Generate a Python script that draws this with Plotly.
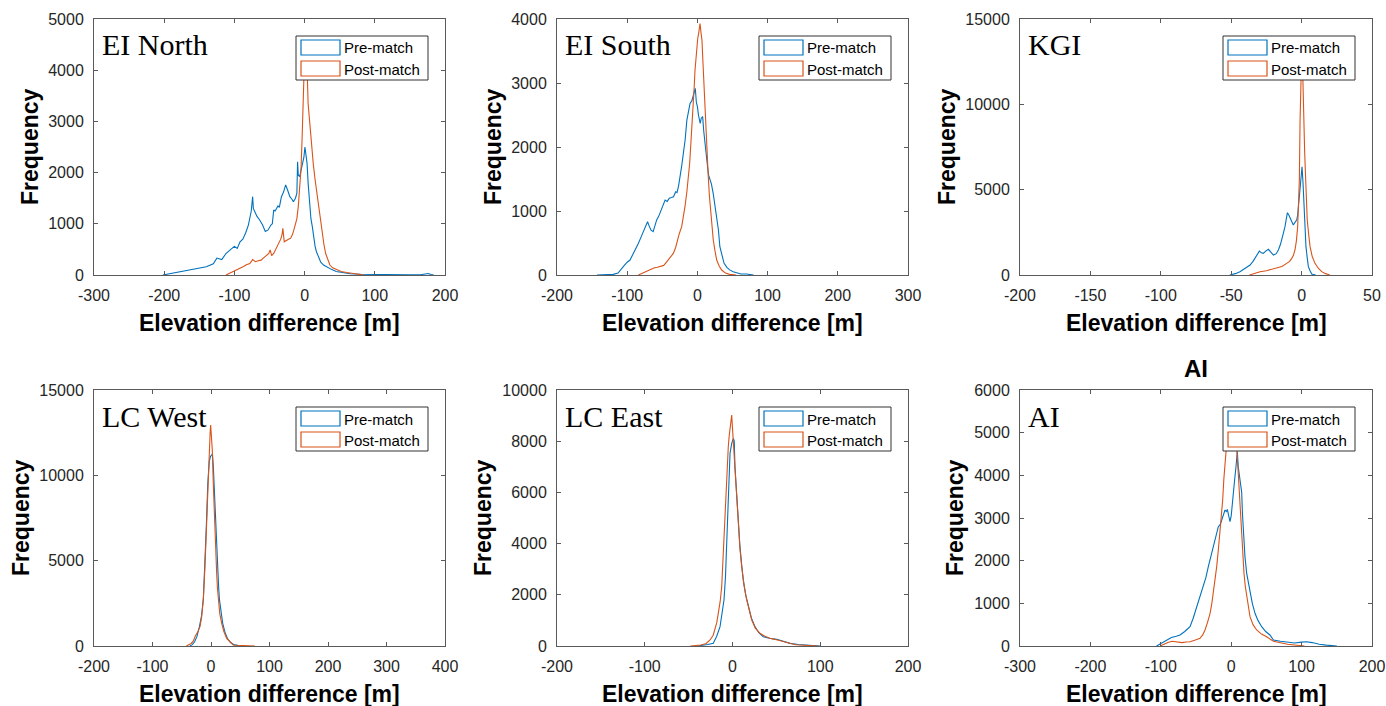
import plotly.graph_objects as go

# ---------------- data ----------------
PANEL_NAMES = ["EI North", "EI South", "KGI", "LC West", "LC East", "AI"]
SERIES_NAMES = ["Pre-match", "Post-match"]
PANEL_TITLE_AI = "AI"

X_TICKS = [
    [-300, -200, -100, 0, 100, 200],
    [-200, -100, 0, 100, 200, 300],
    [-200, -150, -100, -50, 0, 50],
    [-200, -100, 0, 100, 200, 300, 400],
    [-200, -100, 0, 100, 200],
    [-300, -200, -100, 0, 100, 200],
]
Y_TICKS = [
    [0, 1000, 2000, 3000, 4000, 5000],
    [0, 1000, 2000, 3000, 4000],
    [0, 5000, 10000, 15000],
    [0, 5000, 10000, 15000],
    [0, 2000, 4000, 6000, 8000, 10000],
    [0, 1000, 2000, 3000, 4000, 5000, 6000],
]

# EI North
EIN_PRE_X = [-202, -190, -180, -170, -160, -150, -140, -130, -125, -118, -112, -106, -100, -96, -92, -88, -84, -80, -78, -76,
             -74, -73, -71, -68, -64, -60, -56, -52, -48, -46, -44, -42, -40, -38, -36, -33, -30, -27, -24, -21,
             -18, -16, -13, -11, -10, -9, -7, -5, -3, -1, 0.5, 2, 3.5, 5, 7, 9, 11, 13, 15, 17,
             20, 23, 27, 32, 38, 45, 55, 65, 80, 95, 110, 130, 150, 165, 172, 176, 180, 184]
EIN_PRE_Y = [0, 30, 60, 80, 110, 130, 160, 220, 330, 300, 420, 490, 560, 520, 650, 700, 820, 980, 1140, 1250,
             1530, 1300, 1240, 1150, 1075, 980, 850, 880, 975, 1000, 1270, 1250, 1300, 1350, 1320, 1530, 1620, 1760, 1650, 1530,
             1480, 1430, 1500, 1600, 2210, 1950, 1920, 2050, 2115, 2300, 2500, 2350, 2180, 1800, 1335, 1100, 945, 700, 555, 450,
             360, 250, 195, 150, 110, 70, 40, 25, 15, 10, 5, 3, 2, 5, 30, 30, 10, 0]
EIN_POST_X = [-112, -106, -100, -97, -92, -87, -83, -78, -74, -70, -66, -62, -58, -54, -51, -49, -47, -44, -40, -37,
              -34, -32, -31, -29, -26, -23, -20, -17, -14, -11, -9, -7, -5, -3.5, -2, 0, 1.5, 3, 5, 7.5,
              10, 12.5, 15, 17.5, 20, 22.5, 25, 27.5, 30, 33, 36, 40, 46, 52, 60, 68, 76, 84]
EIN_POST_Y = [0, 40, 80, 100, 120, 165, 200, 225, 300, 260, 280, 290, 340, 390, 420, 490, 380, 420, 520, 620,
              700, 800, 910, 650, 680, 700, 715, 800, 945, 1100, 1335, 1700, 2100, 2700, 3680, 4300, 4500, 4300, 3350, 2900,
              2500, 2150, 1855, 1600, 1335, 1050, 815, 600, 420, 290, 195, 140, 100, 70, 50, 30, 15, 0]

# EI South
EIS_PRE_X = [-143, -130, -120, -113, -110, -105, -100, -96, -92, -88, -84, -80, -76, -73, -71, -68.5, -66, -63, -60, -58,
             -55, -52, -49, -46, -43, -40, -37, -34, -31, -29, -27, -25, -22.5, -20, -17.5, -15, -12.5, -10.5, -8, -6,
             -4, -3, -1.5, 0, 1.5, 3, 4, 5.5, 7.5, 9, 11, 13, 15, 16, 18, 20, 22.5, 25, 27.5, 30,
             32, 35, 38, 42, 46, 51, 56, 62, 70, 80]
EIS_PRE_Y = [0, 5, 10, 30, 78, 140, 200, 234, 320, 400, 495, 600, 700, 755, 833, 760, 700, 677, 780, 860,
             920, 1000, 1067, 1172, 1150, 1200, 1210, 1223, 1300, 1290, 1380, 1500, 1692, 1900, 2110, 2420, 2550, 2680, 2720, 2787,
             2850, 2917, 2700, 2630, 2500, 2400, 2370, 2450, 2475, 2250, 2005, 1800, 1640, 1560, 1485, 1420, 1276, 1100, 911, 700,
             442, 300, 183, 120, 80, 52, 30, 15, 15, 0]
EIS_POST_X = [-84, -80, -75, -70, -67.5, -62, -57, -53, -48, -44, -41.5, -38, -34.3, -31, -28.6, -26, -22.4, -20, -17.7, -15,
              -13, -11, -9.6, -7.5, -5.8, -4.5, -3.4, -2, -1, 0.5, 1.8, 3, 3.7, 5, 6.5, 8, 9.4, 11, 12.3, 14,
              15.5, 17, 19, 21, 22.6, 25, 27.5, 31, 34.6, 40, 46, 55]
EIS_POST_Y = [0, 20, 50, 80, 88, 110, 120, 130, 150, 200, 234, 280, 338, 430, 547, 640, 755, 900, 1067, 1300,
              1485, 1750, 2005, 2350, 2683, 2950, 3200, 3420, 3567, 3700, 3776, 3880, 3930, 3800, 3670, 3300, 2940, 2550, 2160, 1850,
              1536, 1250, 964, 750, 547, 380, 234, 140, 78, 30, 10, 0]

# KGI
KGI_PRE_X = [-51, -47, -43.8, -40, -36.6, -34.5, -33, -31, -30, -28.5, -27.2, -25.5, -23.6, -22, -20, -18, -16.5, -15, -14.1, -12.8,
             -11.8, -10.8, -10.1, -9, -7.7, -6.8, -5.9, -4.6, -3.5, -2.8, -2.3, -1.6, -1.1, -0.5, 0.3, 1, 1.7, 2.4, 3.1, 4,
             4.8, 6, 7.2, 8.5, 10]
KGI_PRE_Y = [0, 80, 195, 380, 586, 800, 976, 1250, 1400, 1300, 1270, 1400, 1505, 1350, 1170, 1250, 1465, 1800, 2150, 2500,
             2830, 3300, 3650, 3500, 3220, 3050, 2930, 3100, 3220, 3500, 4000, 4600, 5170, 5900, 6345, 5400, 4000, 2800, 1660, 1000,
             488, 250, 60, 20, 0]
KGI_POST_X = [-37, -33, -29.5, -25, -21, -17.7, -14, -10.6, -8.5, -7, -5.8, -4.7, -3.7, -2.8, -2.2, -1.6, -1.1, -0.6, 0, 0.6,
              1.2, 1.7, 2.2, 3.1, 4, 5, 6, 7.5, 9.5, 12, 14.3, 17, 20]
KGI_POST_Y = [0, 100, 195, 250, 330, 390, 500, 683, 800, 976, 1150, 1465, 2000, 2830, 4000, 5570, 9000, 12000, 12800, 12500,
              10060, 8500, 7130, 5170, 3220, 2400, 1660, 1100, 683, 380, 195, 80, 0]

# LC West
LCW_PRE_X = [-36, -32, -28, -24, -20, -16, -13, -10.5, -8, -5.5, -3, -1, 1, 2.5, 4, 5.5, 7, 8.5, 10, 11.5,
             13, 14.5, 17, 20, 24, 28, 33, 39, 46, 55]
LCW_PRE_Y = [0, 80, 250, 560, 1100, 1800, 2800, 4500, 7000, 9500, 10800, 11100, 11200, 11250, 10500, 9200, 7900, 6600, 5400, 4500,
             3500, 2700, 1900, 1330, 800, 450, 220, 80, 30, 0]
LCW_POST_X = [-42, -38, -34, -30, -27.4, -23, -18.8, -16, -13.2, -10.3, -7.4, -4.6, -2.9, -1.5, -0.6, 0.8, 2.2, 3.9, 5.3, 6.8,
              8.2, 9.7, 11, 12.5, 15, 18.3, 22, 26.8, 32, 38, 46, 54, 61, 68, 75]
LCW_POST_Y = [0, 60, 150, 300, 545, 800, 1130, 1700, 2700, 4650, 7580, 10500, 12070, 12500, 12950, 12400, 11480, 9530, 8000, 6600,
              5300, 4260, 3400, 2700, 1900, 1330, 850, 450, 250, 60, 40, 30, 30, 15, 0]

# LC East
LCE_PRE_X = [-40, -34, -28, -21.9, -18, -14.2, -12, -9.7, -8, -6.6, -4.8, -2.8, -0.9, 1, 2, 2.8, 4, 5.5, 7, 8.5,
             10.5, 12.3, 15, 18, 21.5, 25.6, 30, 35, 42, 50.4, 58, 65.5, 75, 85, 92, 100]
LCE_PRE_Y = [0, 20, 60, 104, 380, 755, 1200, 1797, 2700, 3750, 5700, 7530, 7917, 8110, 8000, 7000, 6300, 5440, 4600, 3880,
             3150, 2580, 2000, 1536, 1100, 755, 520, 365, 300, 260, 180, 104, 60, 40, 30, 0]
LCE_POST_X = [-48, -42, -36, -30, -25.6, -22, -20, -18, -16.2, -14, -12.3, -11, -9.7, -8.5, -7.4, -6, -4.8, -3.8, -2.8, -1.8,
              -0.9, 0, 1, 2.5, 4, 5.3, 6.6, 8.5, 10.5, 13, 16.2, 19, 21.9, 26, 31.3, 37, 42.7, 48, 54, 60,
              65.5, 72, 77, 85, 92, 97]
LCE_POST_Y = [0, 10, 40, 100, 234, 420, 625, 900, 1276, 1750, 2318, 3300, 4400, 5400, 6355, 7100, 7786, 8200, 8440, 8700,
              9023, 8500, 7917, 7100, 6355, 5500, 4660, 3800, 3100, 2400, 1797, 1350, 1016, 700, 495, 380, 300, 260, 208, 140,
              78, 50, 40, 30, 20, 0]

# AI
AI_PRE_X = [-106, -100, -92, -85, -78, -72.7, -66, -58.5, -54, -49, -44, -39.6, -36, -32.5, -29, -25.6, -22, -18.3, -15.5, -13.5,
            -11, -8.8, -7, -5.5, -3.5, -1.7, 0, 2.1, 4.4, 6.8, 8.7, 10, 11.5, 13, 14.9, 16, 17.2, 19.5, 22, 24.5,
            26.7, 30, 33.8, 38, 43.3, 49, 55, 60, 70, 80, 90, 100, 107, 115, 125, 135, 150]
AI_PRE_Y = [0, 60, 140, 200, 230, 258, 340, 453, 650, 922, 1150, 1390, 1600, 1860, 2100, 2328, 2550, 2797, 2850, 2953,
            3050, 3187, 3150, 3200, 3050, 2914, 3050, 3344, 3813, 4200, 4550, 4200, 3970, 3800, 3600, 3100, 2640, 2100, 1700, 1450,
            1235, 1000, 766, 600, 453, 340, 258, 140, 110, 90, 70, 90, 100, 80, 40, 20, 0]
AI_POST_X = [-101, -96, -90, -84, -77.4, -70, -64, -58.5, -51, -44.3, -40.5, -37.2, -33.5, -30, -27.5, -25.5, -23, -20.6, -18.3, -16,
             -14, -12.1, -10.5, -8.8, -7.6, -6.4, -4.5, -2.5, -0.5, 1.5, 3.5, 5.5, 7.8, 9.5, 11.5, 13.2, 14.9, 16.5, 18.2, 20,
             22, 24.5, 26.7, 31, 36.2, 43, 50.4, 60, 70, 80, 90, 97, 104]
AI_POST_Y = [0, 40, 80, 110, 100, 80, 95, 100, 140, 180, 260, 375, 560, 766, 1000, 1235, 1550, 1860, 2250, 2640,
             3000, 3420, 3900, 4360, 4550, 4750, 4900, 5000, 5050, 4950, 4850, 4800, 4670, 4200, 3580, 3000, 2484, 2100, 1700, 1400,
             1155, 900, 687, 500, 375, 280, 218, 110, 70, 40, 25, 10, 0]

PRE = [(EIN_PRE_X, EIN_PRE_Y), (EIS_PRE_X, EIS_PRE_Y), (KGI_PRE_X, KGI_PRE_Y),
       (LCW_PRE_X, LCW_PRE_Y), (LCE_PRE_X, LCE_PRE_Y), (AI_PRE_X, AI_PRE_Y)]
POST = [(EIN_POST_X, EIN_POST_Y), (EIS_POST_X, EIS_POST_Y), (KGI_POST_X, KGI_POST_Y),
        (LCW_POST_X, LCW_POST_Y), (LCE_POST_X, LCE_POST_Y), (AI_POST_X, AI_POST_Y)]

# ---------------- style / layout ----------------
W, H = 1386, 706
BLUE = "#0072BD"
ORANGE = "#D95319"
SANS = "Liberation Sans, Arial, Helvetica, sans-serif"
SERIF = "Liberation Serif, Times New Roman, serif"
FRAME = "#5a5a5a"
TICKTXT = "#262626"

# plot-area boxes in pixels: left, right, top, bottom
BOXES = [(94, 445, 19, 275), (557, 908, 19, 275), (1020, 1372, 19, 275),
         (94, 445, 390, 646), (557, 908, 390, 646), (1020, 1372, 390, 646)]
YTITLE_X = [30, 493, 947, 21, 483, 955]


def px(x):
    return x / W


def py(y):
    return 1 - y / H


fig = go.Figure()
layout = dict(width=W, height=H, autosize=False, margin=dict(l=0, r=0, t=0, b=0),
              paper_bgcolor="white", plot_bgcolor="white", showlegend=False)
shapes = []
annotations = []

for i, name in enumerate(PANEL_NAMES):
    n = "" if i == 0 else str(i + 1)
    L, R, T, B = BOXES[i]
    xt, yt = X_TICKS[i], Y_TICKS[i]
    common = dict(showline=True, linecolor=FRAME, linewidth=1, mirror="ticks", ticks="inside",
                  ticklen=4, tickwidth=1, tickcolor=FRAME, showgrid=False, zeroline=False,
                  tickfont=dict(family=SANS, size=16, color=TICKTXT), automargin=False, fixedrange=True,
                  ticklabeloverflow="allow")
    layout["xaxis" + n] = dict(domain=[px(L), px(R)], range=[xt[0], xt[-1]], anchor="y" + n,
                               tickmode="array", tickvals=xt, ticktext=[str(v) for v in xt],
                               ticklabelstandoff=6, **common)
    layout["yaxis" + n] = dict(domain=[py(B), py(T)], range=[0, yt[-1]], anchor="x" + n,
                               tickmode="array", tickvals=yt, ticktext=[str(v) for v in yt],
                               ticklabelstandoff=6, **common)
    for (sx, sy), color, sname in ((PRE[i], BLUE, SERIES_NAMES[0]), (POST[i], ORANGE, SERIES_NAMES[1])):
        fig.add_trace(go.Scatter(x=sx, y=sy, mode="lines", name=sname, xaxis="x" + n, yaxis="y" + n,
                                 line=dict(color=color, width=1.1), hoverinfo="skip"))

    # axis titles
    annotations.append(dict(text="Elevation difference [m]", x=px((L + R) / 2), y=py(B + 48),
                            xref="paper", yref="paper", showarrow=False, xanchor="center", yanchor="middle",
                            font=dict(family=SANS, size=23, color="black", weight="bold")))
    annotations.append(dict(text="Frequency", x=px(YTITLE_X[i]), y=py((T + B) / 2), textangle=-90,
                            xref="paper", yref="paper", showarrow=False, xanchor="center", yanchor="middle",
                            font=dict(family=SANS, size=23, color="black", weight="bold")))
    # panel label
    annotations.append(dict(text=name, x=px(L + 6), y=py(T + 26), xref="paper", yref="paper",
                            showarrow=False, xanchor="left", yanchor="middle",
                            font=dict(family=SERIF, size=30, color="black")))
    # legend box
    lr = R - 17
    ll = lr - 132
    lt = T + 17
    lb = T + 61
    shapes.append(dict(type="rect", xref="paper", yref="paper", x0=px(ll), x1=px(lr), y0=py(lb), y1=py(lt),
                       fillcolor="white", line=dict(color="#333333", width=1), layer="above"))
    for k, (color, sname) in enumerate(((BLUE, SERIES_NAMES[0]), (ORANGE, SERIES_NAMES[1]))):
        top = lt + 4 + 21 * k
        shapes.append(dict(type="rect", xref="paper", yref="paper", x0=px(ll + 5), x1=px(ll + 44),
                           y0=py(top + 15), y1=py(top), fillcolor="white",
                           line=dict(color=color, width=1.2), layer="above"))
        annotations.append(dict(text=sname, x=px(ll + 46), y=py(top + 8), xref="paper", yref="paper",
                                showarrow=False, xanchor="left", yanchor="middle",
                                font=dict(family=SANS, size=15, color="black")))

# title of last panel
L, R, T, B = BOXES[5]
annotations.append(dict(text=PANEL_TITLE_AI, x=px((L + R) / 2), y=py(T - 22), xref="paper", yref="paper",
                        showarrow=False, xanchor="center", yanchor="middle",
                        font=dict(family=SANS, size=24, color="black", weight="bold")))

layout["shapes"] = shapes
layout["annotations"] = annotations
fig.update_layout(**layout)
fig.write_html("out.html", config={"displayModeBar": False, "staticPlot": True},
               post_script="document.body.style.margin='0';document.body.style.overflow='hidden';")
